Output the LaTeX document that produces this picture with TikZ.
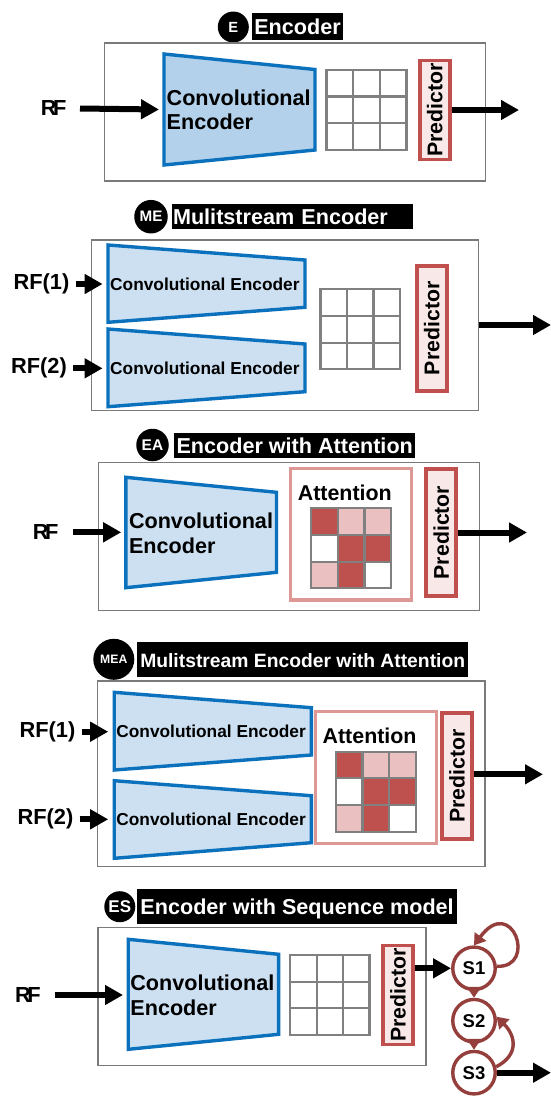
\documentclass[tikz,border=0pt]{standalone}
\usepackage{fontspec}
\setmainfont{Liberation Sans}
\usetikzlibrary{arrows.meta}
\definecolor{boxgray}{HTML}{7A7A7A}
\definecolor{gridgray}{HTML}{808080}
\definecolor{encblue}{HTML}{0B71BD}
\definecolor{encfillA}{HTML}{B3D1EB}
\definecolor{encfillB}{HTML}{CCE0F2}
\definecolor{predred}{HTML}{C0504D}
\definecolor{predfill}{HTML}{F8E9E8}
\definecolor{attnbox}{HTML}{DD9896}
\definecolor{celllight}{HTML}{EAC1C0}
\definecolor{celldark}{HTML}{BE504E}
\definecolor{statered}{HTML}{953F3C}
\tikzset{
  panelbox/.style={draw=boxgray,line width=1.5pt},
  encshape/.style={draw=encblue,line width=3.4pt,fill=encfillB},
  gridline/.style={draw=gridgray,line width=2.3pt},
  attnshape/.style={draw=attnbox,line width=3.2pt,fill=white},
  predbox/.style={draw=predred,fill=predfill,line width=3.6pt,rotate=90,inner sep=0pt,
     font=\fontsize{21.3}{24}\selectfont\bfseries},
  bigtext/.style={font=\fontsize{21.6}{24.5}\selectfont\bfseries,align=left,anchor=west,inner sep=0pt},
  smalltext/.style={font=\fontsize{17.3}{20}\selectfont\bfseries,anchor=west,inner sep=0pt},
  rflabel/.style={font=\fontsize{21.8}{24}\selectfont\bfseries,inner sep=0pt},
  badge/.style={circle,fill=black,text=white,inner sep=0pt,font=\bfseries},
  titlebar/.style={fill=black,text=white,anchor=west,inner ysep=0pt,inner xsep=1pt,align=left,
     text height=15.5pt,text depth=0pt,font=\fontsize{21.6}{24}\selectfont\bfseries},
  bigarrow/.style={draw=black,line width=6pt,-{Triangle[length=18pt,width=19pt]}},
  stateshape/.style={circle,draw=statered,fill=white,line width=3.4pt,minimum size=42.5pt,inner sep=0pt,
     font=\fontsize{18.5}{20}\selectfont\bfseries},
  statearrow/.style={draw=statered,line width=3.4pt,-{Triangle[length=11pt,width=14pt]}},
}
\newcommand{\plaingrid}[8]{%
  \draw[gridline] (#1,#5) rectangle (#4,#8);
  \draw[gridline] (#2,#5) -- (#2,#8) (#3,#5) -- (#3,#8) (#1,#6) -- (#4,#6) (#1,#7) -- (#4,#7);}
\newcommand{\attncells}[8]{%
  \fill[celldark]  (#1,#5) rectangle (#2,#6);
  \fill[celllight] (#2,#5) rectangle (#4,#6);
  \fill[celldark]  (#2,#6) rectangle (#4,#7);
  \fill[celllight] (#1,#7) rectangle (#2,#8);
  \fill[celldark]  (#2,#7) rectangle (#3,#8);
  \plaingrid{#1}{#2}{#3}{#4}{#5}{#6}{#7}{#8}}
\begin{document}
\begin{tikzpicture}[x=1pt,y=-1pt]
\useasboundingbox (0,0) rectangle (551,1096);
\fill[white] (0,0) rectangle (551,1096);

% ---------- Encoder
\node[badge,minimum size=31pt,font=\fontsize{14.7}{16}\selectfont\bfseries] (eB) at (233.3,27) {E};
\node[titlebar,minimum width=90.6pt,minimum height=27pt] (eT) at (252,26.5) {Encoder};
\draw[panelbox] (104.7,43) rectangle (485.6,181);
\draw[encshape,fill=encfillA] (164,54) -- (315,69.5) -- (315,150) -- (164,165) -- cycle;
\node[bigtext] (eC) at (166.5,110) {Convolutional\\Encoder};
\plaingrid{326.4}{353}{380}{406.5}{70}{96.5}{123}{150}
\node[predbox,minimum width=99pt,minimum height=30pt] (eP) at (434.7,110) {Predictor};
\node[rflabel] (eR) at (53.6,108) {R\kern-3.5pt F};
\coordinate (eI0) at (80,108.5); \coordinate (eI1) at (159,109.5); \coordinate (eO) at (519,110);
\draw[bigarrow] (eI0) -- (eI1);
\draw[bigarrow] (eP.south) -- (eO);

% ---------- Mulitstream Encoder
\node[badge,minimum size=33.5pt,font=\fontsize{15.2}{17}\selectfont\bfseries] (mB) at (151,216.7) {ME};
\node[titlebar,minimum width=241.1pt,minimum height=25pt,text width=239pt] (mT) at (171.8,216.5) {Mulitstream Encoder};
\draw[panelbox] (91.4,240) rectangle (478.6,410.7);
\draw[encshape] (108,245) -- (305,260) -- (305,307.3) -- (108,322.3) -- cycle;
\draw[encshape] (108,329) -- (305,344) -- (305,391.7) -- (108,406.7) -- cycle;
\node[smalltext] (mC1) at (110,284) {Convolutional Encoder};
\node[smalltext] (mC2) at (110,368) {Convolutional Encoder};
\plaingrid{320.5}{347}{373.5}{400}{289.3}{316}{343.3}{369.3}
\node[predbox,minimum width=125pt,minimum height=30pt] (mP) at (431.8,328.3) {Predictor};
\node[rflabel] (mR1) at (41.5,284) {RF(1)};
\node[rflabel] (mR2) at (39,368.3) {RF(2)};
\coordinate (mA1) at (102.6,284); \coordinate (mA2) at (102.6,368.3); \coordinate (mO0) at (478.6,325); \coordinate (mO1) at (551,325);
\draw[bigarrow] (mR1.east) ++(6,0) -- (mA1);
\draw[bigarrow] (mR2.east) ++(6,0) -- (mA2);
\draw[bigarrow] (mO0) -- (mO1);

% ---------- Encoder with Attention
\node[badge,minimum size=32.5pt,font=\fontsize{15.5}{17}\selectfont\bfseries] (aB) at (152.5,445) {EA};
\node[titlebar,minimum width=241pt,minimum height=25.4pt] (aT) at (174,445.5) {Encoder with Attention};
\draw[panelbox] (98.7,462.7) rectangle (479.6,610.7);
\draw[encshape] (125.8,477.3) -- (276.5,492.3) -- (276.5,572.3) -- (125.8,587.7) -- cycle;
\node[bigtext] (aC) at (128.8,533.5) {Convolutional\\Encoder};
\draw[attnshape] (290.2,468.3) rectangle (411.8,600);
\node[font=\fontsize{21.4}{24}\selectfont\bfseries,inner sep=0pt] (aL) at (344.8,493) {Attention};
\attncells{311.3}{338}{364.4}{390.7}{508.3}{535}{561.7}{588.3}
\node[predbox,minimum width=127pt,minimum height=30pt] (aP) at (441.2,532.5) {Predictor};
\node[rflabel] (aR) at (45.7,532.3) {R\kern-3.5pt F};
\coordinate (aI0) at (72.7,532.3); \coordinate (aI1) at (121.2,532.3); \coordinate (aO) at (527,532.5);
\draw[bigarrow] (aI0) -- (aI1);
\draw[bigarrow] (aP.south) -- (aO);

% ---------- Mulitstream Encoder with Attention
\node[badge,minimum size=41pt,font=\fontsize{12.2}{14}\selectfont\bfseries] (xB) at (113.8,659.3) {MEA};
\node[titlebar,minimum width=331pt,minimum height=34.7pt,font=\fontsize{19.3}{24}\selectfont\bfseries] (xT) at (137,659.3) {Mulitstream Encoder with Attention};
\draw[panelbox] (97.3,681) rectangle (485,866.7);
\draw[encshape] (114.2,692.3) -- (311.3,707.7) -- (311.3,755) -- (114.2,770) -- cycle;
\draw[encshape] (114.2,780.7) -- (311.3,795.7) -- (311.3,842.7) -- (114.2,858.3) -- cycle;
\node[smalltext] (xC1) at (116.2,731.7) {Convolutional Encoder};
\node[smalltext] (xC2) at (116.2,819.3) {Convolutional Encoder};
\draw[attnshape] (315.5,711.7) rectangle (436.4,843.3);
\node[font=\fontsize{21.4}{24}\selectfont\bfseries,inner sep=0pt] (xL) at (369.6,736) {Attention};
\attncells{336.3}{362.6}{389}{415.7}{751.7}{778.3}{805}{831.7}
\node[predbox,minimum width=126pt,minimum height=30pt] (xP) at (457,776.2) {Predictor};
\node[rflabel] (xR1) at (47.5,731.7) {RF(1)};
\node[rflabel] (xR2) at (45.5,819.3) {RF(2)};
\coordinate (xA1) at (108.2,731.7); \coordinate (xA2) at (108.2,819.3); \coordinate (xO) at (543,774.3);
\draw[bigarrow] (xR1.east) ++(6,0) -- (xA1);
\draw[bigarrow] (xR2.east) ++(6,0) -- (xA2);
\draw[bigarrow] (xP.south |- xO) -- (xO);

% ---------- Encoder with Sequence model
\node[badge,minimum size=31pt,font=\fontsize{17}{19}\selectfont\bfseries] (sB) at (119.8,906.7) {ES};
\node[titlebar,minimum width=319.8pt,minimum height=35pt] (sT) at (137,906.5) {Encoder with Sequence model};
\draw[panelbox] (98,927.3) rectangle (426.2,1065.3);
\draw[encshape] (128.2,939.3) -- (278.6,954.3) -- (278.6,1034.3) -- (128.2,1049.3) -- cycle;
\node[bigtext] (sC) at (130.2,995.5) {Convolutional\\Encoder};
\plaingrid{289.9}{317}{343.3}{369.6}{954.7}{981.7}{1008.3}{1035}
\node[predbox,minimum width=99pt,minimum height=30pt] (sP) at (397.9,994.8) {Predictor};
\node[rflabel] (sR) at (28,995) {R\kern-3.5pt F};
\coordinate (sI0) at (54.5,995); \coordinate (sI1) at (123,995);
\draw[bigarrow] (sI0) -- (sI1);
\node[stateshape] (S1) at (474,968.3) {S1};
\node[stateshape] (S2) at (474,1020.7) {S2};
\node[stateshape] (S3) at (474,1072.7) {S3};
\coordinate (sF) at (414.6,968.3); \coordinate (sO) at (551,1072.7);
\draw[bigarrow] (sF) -- (S1.west);
\draw[statearrow] (S1.south) -- (S2.north);
\draw[statearrow] (S2.south) -- (S3.north);
\draw[statearrow] (S1.5) .. controls (538,968) and (512,894) .. (S1.north);
\draw[statearrow] (S3.15) .. controls (519,1055) and (516,1036) .. (S2.10);
\draw[bigarrow] (S3.east) -- (sO);
\end{tikzpicture}
\end{document}
